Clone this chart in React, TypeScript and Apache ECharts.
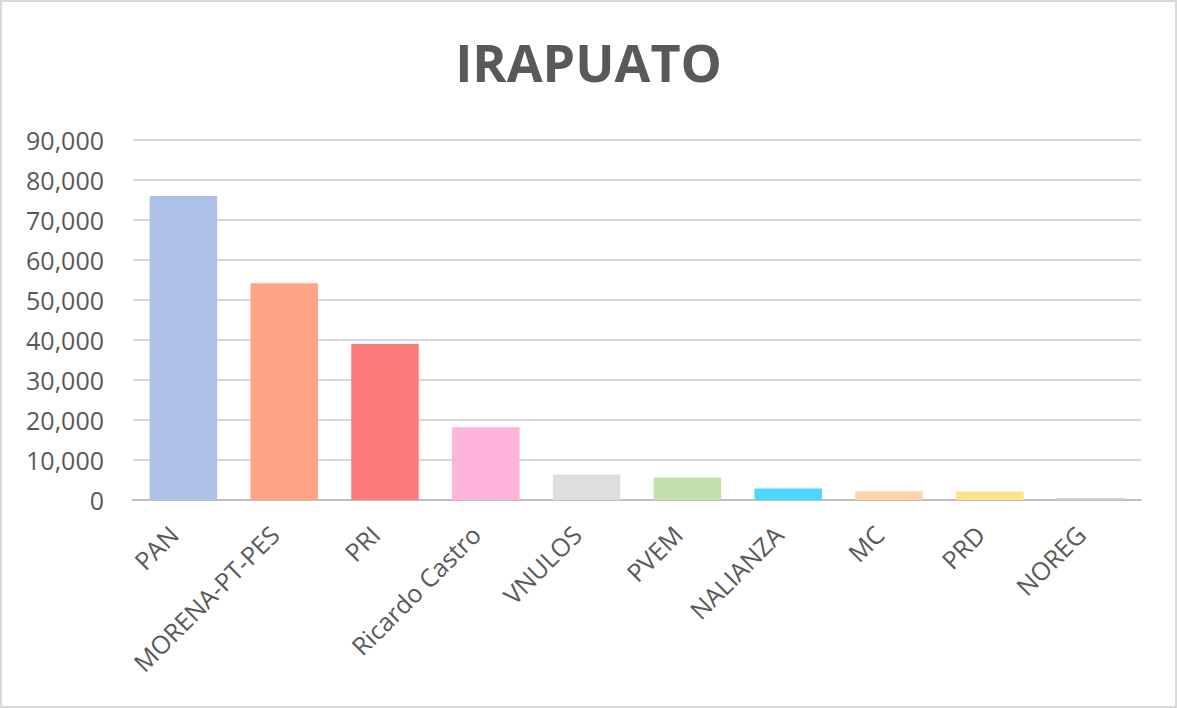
import React, { useEffect, useRef } from "react";
import * as echarts from "echarts";

const titleText = "IRAPUATO";
const categories = ["PAN", "MORENA-PT-PES", "PRI", "Ricardo Castro", "VNULOS", "PVEM", "NALIANZA", "MC", "PRD", "NOREG"];
const votes = [76000, 54200, 39000, 18200, 6400, 5600, 2900, 2200, 2100, 500];
const barColors = ["#adc1e7", "#ffa585", "#ff7b7b", "#ffb4dc", "#dedede", "#c4dfac", "#4dd8ff", "#ffd4a8", "#ffe18c", "#cfcfcf"];
const yMin = 0;
const yMax = 90000;
const yStep = 10000;

export default function App() {
  const ref = useRef<HTMLDivElement>(null);
  useEffect(() => {
    document.body.style.margin = "0";
    const chart = echarts.init(ref.current!, null, { renderer: "svg" });
    chart.setOption({
      animation: false,
      backgroundColor: "#ffffff",
      title: {
        text: titleText,
        left: "center",
        top: 30,
        textStyle: { fontFamily: "Open Sans", fontWeight: "bold", fontSize: 52, color: "#595959" },
      },
      graphic: [
        {
          type: "rect",
          shape: { x: 1, y: 1, width: 1175, height: 706 },
          style: { fill: "none", stroke: "#d9d9d9", lineWidth: 2 },
          silent: true,
        },
      ],
      grid: { left: 133, right: 36, top: 140, bottom: 208, containLabel: false },
      xAxis: {
        type: "category",
        data: categories,
        axisLine: { lineStyle: { color: "#bfbfbf", width: 2 } },
        axisTick: { show: false },
        axisLabel: {
          rotate: 45,
          interval: 0,
          margin: 20,
          padding: [0, 14, 0, 0],
          fontFamily: "Open Sans",
          fontSize: 25,
          color: "#595959",
        },
      },
      yAxis: {
        type: "value",
        min: yMin,
        max: yMax,
        interval: yStep,
        axisLine: { show: false },
        axisTick: { show: false },
        splitLine: { lineStyle: { color: "#d9d9d9", width: 2 } },
        axisLabel: {
          margin: 29,
          fontFamily: "Open Sans",
          fontSize: 25,
          color: "#595959",
          formatter: (v: number) => v.toLocaleString("en-US"),
        },
      },
      series: [
        {
          type: "bar",
          barCategoryGap: "33%",
          data: votes.map((v, i) => ({ value: v, itemStyle: { color: barColors[i] } })),
        },
      ],
    });
    return () => chart.dispose();
  }, []);
  return <div ref={ref} style={{ width: 1177, height: 708 }} />;
}
